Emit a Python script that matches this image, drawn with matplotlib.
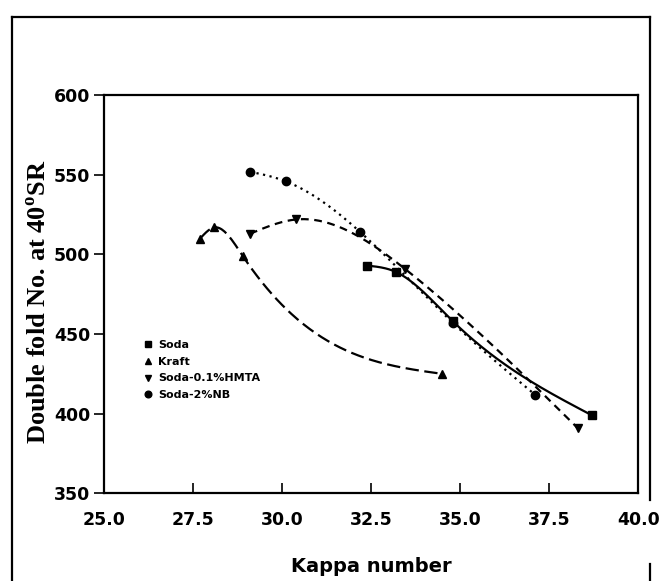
import numpy as np
import matplotlib
matplotlib.use("Agg")
import matplotlib.pyplot as plt
from matplotlib.lines import Line2D

# Kappa number vs double fold number
SODA_X = [32.4, 33.2, 34.8, 38.7]
SODA_Y = [493, 489, 458, 399]
KRAFT_X = [27.7, 28.1, 28.9, 34.5]
KRAFT_Y = [510, 517, 499, 425]
HMTA_X = [29.1, 30.4, 33.45, 38.3]
HMTA_Y = [513, 522, 491, 391]
NB_X = [29.1, 30.1, 32.2, 34.8, 37.1]
NB_Y = [552, 546, 514, 457, 412]

LABELS = ["Soda", "Kraft", "Soda-0.1%HMTA", "Soda-2%NB"]
X_TICKS = [25.0, 27.5, 30.0, 32.5, 35.0, 37.5, 40.0]
Y_TICKS = [350, 400, 450, 500, 550, 600]


def natural_spline(x, y, n=200):
    # plain natural cubic spline, just for drawing the smooth connecting curve
    x = np.asarray(x, float)
    y = np.asarray(y, float)
    k = len(x)
    h = np.diff(x)
    A = np.zeros((k, k))
    b = np.zeros(k)
    A[0, 0] = A[-1, -1] = 1.0
    for i in range(1, k - 1):
        A[i, i - 1] = h[i - 1]
        A[i, i] = 2 * (h[i - 1] + h[i])
        A[i, i + 1] = h[i]
        b[i] = 6 * ((y[i + 1] - y[i]) / h[i] - (y[i] - y[i - 1]) / h[i - 1])
    M = np.linalg.solve(A, b)
    xs = np.linspace(x[0], x[-1], n)
    idx = np.clip(np.searchsorted(x, xs) - 1, 0, k - 2)
    x0, x1 = x[idx], x[idx + 1]
    hh = x1 - x0
    t0, t1 = x1 - xs, xs - x0
    ys = (M[idx] * t0 ** 3 + M[idx + 1] * t1 ** 3) / (6 * hh) \
        + (y[idx] / hh - M[idx] * hh / 6) * t0 \
        + (y[idx + 1] / hh - M[idx + 1] * hh / 6) * t1
    return xs, ys


SERIES = [
    (SODA_X, SODA_Y, "s", "-"),
    (KRAFT_X, KRAFT_Y, "^", (0, (6, 2.5))),
    (HMTA_X, HMTA_Y, "v", (0, (3.5, 2.5))),
    (NB_X, NB_Y, "o", (0, (1, 2))),
]

plt.rcParams.update({
    "font.family": "DejaVu Sans",
    "font.weight": "bold",
})

fig = plt.figure(figsize=(6.62, 5.81), dpi=100)
ax = fig.add_axes([0.157, 0.151, 0.807, 0.685])

for (xs, ys, mk, ls), lab in zip(SERIES, LABELS):
    cx, cy = natural_spline(xs, ys)
    ax.plot(cx, cy, color="black", linestyle=ls, linewidth=1.6)
    ax.plot(xs, ys, linestyle="none", marker=mk, markersize=6,
            color="black", label=lab)

ax.set_xlim(25, 40)
ax.set_ylim(350, 600)
ax.set_xticks(X_TICKS)
ax.set_xticklabels([f"{v:.1f}" for v in X_TICKS])
ax.set_yticks(Y_TICKS)
ax.tick_params(axis="x", direction="in", length=7, width=1.2,
               labelsize=12.5, pad=13)
ax.tick_params(axis="y", direction="out", length=7, width=1.2,
               labelsize=12.5, pad=3)
for sp in ax.spines.values():
    sp.set_linewidth(1.6)

ax.set_xlabel("Kappa number", fontsize=14, fontweight="bold", labelpad=20)
ax.set_ylabel("Double fold No. at 40$^{\\mathregular{o}}$SR", fontsize=19,
              fontweight="bold", family="Liberation Serif", labelpad=3)
ax.yaxis.set_label_coords(-0.098, 0.48)

ax.legend(loc="upper left", bbox_to_anchor=(0.055, 0.41), frameon=False,
          fontsize=8, handletextpad=0.5, labelspacing=0.6,
          markerscale=0.8, handlelength=0.8)

# scanned outer frame
frame = dict(color="black", linewidth=1.6, transform=fig.transFigure)
fig.add_artist(Line2D([0.018, 0.018], [0.0, 0.97], **frame))
fig.add_artist(Line2D([0.018, 0.982], [0.97, 0.97], **frame))
fig.add_artist(Line2D([0.982, 0.982], [0.97, 0.14], **frame))
fig.add_artist(Line2D([0.982, 0.982], [0.0, 0.03], **frame))

fig.savefig("out.png", dpi=100)
